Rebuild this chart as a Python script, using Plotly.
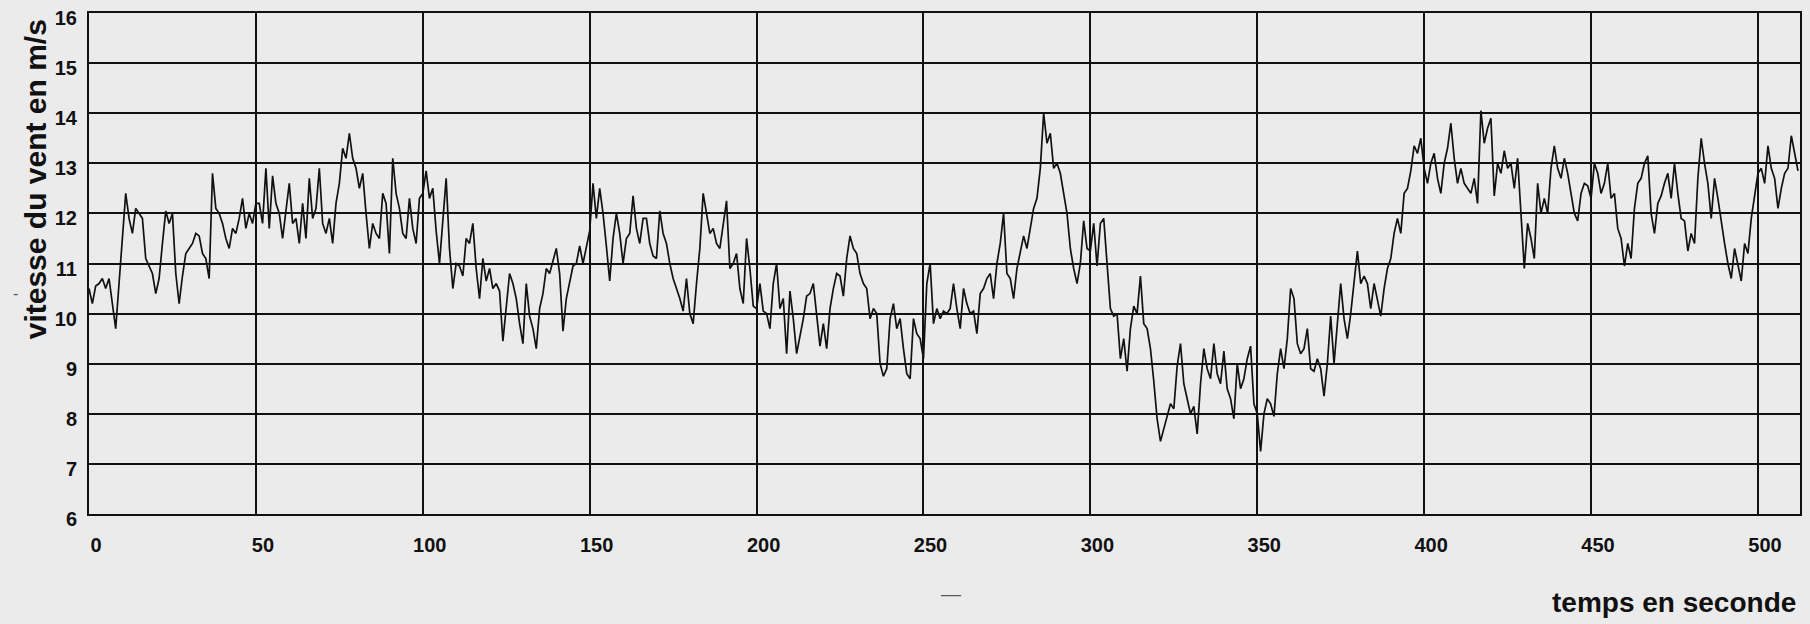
import plotly.graph_objects as go

# Vitesse du vent relevée chaque seconde (m/s), de t = 0 à t = 512 s
vitesse = [
    # 0 - 9
    10.5, 10.2, 10.55, 10.6, 10.7, 10.5, 10.7, 10.2, 9.7, 10.6,
    # 10 - 19
    11.5, 12.4, 11.9, 11.6, 12.1, 12.0, 11.9, 11.1, 10.95, 10.8,
    # 20 - 29
    10.4, 10.7, 11.4, 12.05, 11.8, 12.0, 10.8, 10.2, 10.75, 11.2,
    # 30 - 39
    11.3, 11.4, 11.6, 11.55, 11.2, 11.1, 10.7, 12.8, 12.1, 12.0,
    # 40 - 49
    11.8, 11.5, 11.3, 11.7, 11.6, 11.9, 12.3, 11.7, 12.0, 11.8,
    # 50 - 59
    12.2, 12.2, 11.8, 12.9, 11.7, 12.75, 12.2, 12.0, 11.5, 12.1,
    # 60 - 69
    12.6, 11.8, 11.9, 11.4, 12.2, 11.5, 12.7, 11.9, 12.1, 12.9,
    # 70 - 79
    11.8, 11.6, 11.9, 11.4, 12.2, 12.6, 13.3, 13.1, 13.6, 13.1,
    # 80 - 89
    12.9, 12.5, 12.8, 12.0, 11.3, 11.8, 11.6, 11.5, 12.4, 12.2,
    # 90 - 99
    11.2, 13.1, 12.4, 12.1, 11.6, 11.5, 12.3, 11.7, 11.4, 12.3,
    # 100 - 109
    12.4, 12.85, 12.3, 12.5, 11.65, 11.0, 11.8, 12.7, 11.3, 10.5,
    # 110 - 119
    11.0, 10.95, 10.75, 11.5, 11.4, 11.8, 10.9, 10.3, 11.1, 10.65,
    # 120 - 129
    10.9, 10.5, 10.6, 10.45, 9.45, 10.1, 10.8, 10.6, 10.3, 9.8,
    # 130 - 139
    9.4, 10.6, 9.95, 9.7, 9.3, 10.1, 10.4, 10.9, 10.8, 11.05,
    # 140 - 149
    11.3, 10.8, 9.65, 10.3, 10.6, 10.95, 11.0, 11.35, 11.0, 11.3,
    # 150 - 159
    11.65, 12.6, 11.9, 12.5, 12.0, 11.35, 10.65, 11.5, 12.0, 11.6,
    # 160 - 169
    11.0, 11.5, 11.6, 12.35, 11.7, 11.4, 11.9, 11.9, 11.4, 11.15,
    # 170 - 179
    11.1, 12.05, 11.6, 11.4, 11.0, 10.7, 10.5, 10.3, 10.05, 10.7,
    # 180 - 189
    10.0, 9.8, 10.6, 11.3, 12.4, 12.0, 11.6, 11.7, 11.4, 11.3,
    # 190 - 199
    11.8, 12.25, 10.9, 11.0, 11.2, 10.5, 10.2, 11.5, 10.9, 10.15,
    # 200 - 209
    10.1, 10.6, 10.05, 10.0, 9.7, 10.6, 11.0, 10.1, 10.3, 9.2,
    # 210 - 219
    10.45, 9.9, 9.2, 9.55, 9.9, 10.35, 10.4, 10.6, 9.9, 9.35,
    # 220 - 229
    9.8, 9.3, 10.1, 10.5, 10.8, 10.75, 10.35, 11.1, 11.55, 11.3,
    # 230 - 239
    11.2, 10.8, 10.6, 10.5, 9.9, 10.1, 10.0, 9.0, 8.75, 8.9,
    # 240 - 249
    9.9, 10.2, 9.7, 9.9, 9.3, 8.8, 8.7, 9.9, 9.6, 9.5,
    # 250 - 259
    9.1, 10.6, 11.0, 9.8, 10.1, 9.9, 10.05, 10.0, 10.1, 10.6,
    # 260 - 269
    10.1, 9.7, 10.5, 10.2, 10.0, 10.05, 9.6, 10.4, 10.5, 10.7,
    # 270 - 279
    10.8, 10.3, 11.0, 11.4, 12.0, 10.8, 10.7, 10.3, 10.9, 11.2,
    # 280 - 289
    11.55, 11.3, 11.7, 12.1, 12.3, 12.9, 14.0, 13.4, 13.6, 12.9,
    # 290 - 299
    13.0, 12.8, 12.4, 12.0, 11.3, 10.9, 10.6, 11.0, 11.85, 11.3,
    # 300 - 309
    11.25, 11.8, 10.95, 11.8, 11.9, 11.0, 10.1, 9.95, 10.0, 9.1,
    # 310 - 319
    9.5, 8.85, 9.7, 10.15, 10.0, 10.75, 9.8, 9.7, 9.3, 8.65,
    # 320 - 329
    7.9, 7.45, 7.7, 7.9, 8.2, 8.1, 8.95, 9.4, 8.6, 8.3,
    # 330 - 339
    8.0, 8.15, 7.6, 8.6, 9.3, 8.9, 8.7, 9.4, 8.8, 8.6,
    # 340 - 349
    9.25, 8.5, 8.3, 7.9, 9.0, 8.5, 8.7, 9.1, 9.35, 8.2,
    # 350 - 359
    8.0, 7.25, 8.0, 8.3, 8.2, 7.95, 8.8, 9.3, 8.9, 9.5,
    # 360 - 369
    10.5, 10.3, 9.4, 9.2, 9.3, 9.7, 8.9, 8.85, 9.1, 8.9,
    # 370 - 379
    8.35, 9.0, 9.95, 9.0, 9.85, 10.6, 9.9, 9.5, 10.0, 10.7,
    # 380 - 389
    11.25, 10.6, 10.75, 10.6, 10.1, 10.6, 10.3, 9.95, 10.5, 10.9,
    # 390 - 399
    11.1, 11.6, 11.9, 11.6, 12.4, 12.5, 12.85, 13.35, 13.2, 13.5,
    # 400 - 409
    12.9, 12.6, 13.0, 13.2, 12.7, 12.4, 13.0, 13.3, 13.8, 13.1,
    # 410 - 419
    12.6, 12.9, 12.6, 12.5, 12.4, 12.7, 12.2, 14.05, 13.4, 13.7,
    # 420 - 429
    13.9, 12.35, 13.0, 12.8, 13.25, 12.9, 13.0, 12.5, 13.1, 12.0,
    # 430 - 439
    10.9, 11.8, 11.5, 11.1, 12.6, 12.0, 12.3, 12.0, 12.9, 13.35,
    # 440 - 449
    12.9, 12.7, 13.1, 12.8, 12.4, 12.0, 11.85, 12.4, 12.6, 12.55,
    # 450 - 459
    12.3, 13.0, 12.8, 12.4, 12.6, 13.0, 12.3, 12.4, 11.7, 11.5,
    # 460 - 469
    10.95, 11.4, 11.1, 12.1, 12.6, 12.7, 13.0, 13.15, 12.0, 11.6,
    # 470 - 479
    12.2, 12.35, 12.6, 12.8, 12.3, 13.0, 12.4, 11.9, 11.85, 11.25,
    # 480 - 489
    11.6, 11.4, 12.7, 13.5, 13.0, 12.6, 11.9, 12.7, 12.3, 11.8,
    # 490 - 499
    11.4, 11.0, 10.7, 11.3, 11.0, 10.65, 11.4, 11.2, 11.9, 12.4,
    # 500 - 509
    12.8, 12.9, 12.6, 13.35, 12.9, 12.7, 12.1, 12.5, 12.8, 12.9,
    # 510 - 512
    13.55, 13.2, 12.85,
]

# Instants d'échantillonnage (une mesure par seconde)
temps = list(range(len(vitesse)))

x_ticks = [0, 50, 100, 150, 200, 250, 300, 350, 400, 450, 500]
y_ticks = [6, 7, 8, 9, 10, 11, 12, 13, 14, 15, 16]

FOND = "#ebebeb"
ENCRE = "#111111"
POLICE = "Liberation Sans, Arial, sans-serif"

fig = go.Figure(
    go.Scatter(
        x=temps,
        y=vitesse,
        mode="lines",
        line=dict(color=ENCRE, width=1.7),
        hoverinfo="x+y",
    )
)

axe_commun = dict(
    showgrid=True,
    gridcolor=ENCRE,
    gridwidth=2,
    showline=True,
    linecolor=ENCRE,
    linewidth=2,
    mirror=True,
    zeroline=False,
    ticks="",
    automargin=False,
    ticklabeloverflow="allow",
    tickfont=dict(family=POLICE, size=20, color=ENCRE, weight="bold"),
)

fig.update_xaxes(
    range=[0, 512.6],
    tickvals=x_ticks,
    ticktext=[str(v) for v in x_ticks],
    ticklabelshift=7,
    ticklabelstandoff=12,
    **axe_commun,
)
fig.update_yaxes(
    range=[6, 16],
    tickvals=y_ticks,
    ticktext=[str(v) for v in y_ticks],
    ticklabelshift=5,
    ticklabelstandoff=6,
    **axe_commun,
)

fig.update_layout(
    width=1810,
    height=624,
    margin=dict(l=89, r=10, t=13, b=110, autoexpand=False),
    paper_bgcolor=FOND,
    plot_bgcolor=FOND,
    showlegend=False,
    annotations=[
        dict(
            text="vitesse du vent en m/s",
            xref="paper", yref="paper",
            x=-0.0316, y=0.668,
            xanchor="center", yanchor="middle",
            textangle=-90,
            showarrow=False,
            font=dict(family=POLICE, size=30, color=ENCRE, weight="bold"),
        ),
        dict(
            text="temps en seconde",
            xref="paper", yref="paper",
            x=0.999, y=-0.176,
            xanchor="right", yanchor="middle",
            showarrow=False,
            font=dict(family=POLICE, size=28, color=ENCRE, weight="bold"),
        ),
        # petits traits isolés présents sur la feuille
        dict(
            text="-", xref="paper", yref="paper",
            x=-0.043, y=0.44, xanchor="center", yanchor="middle",
            showarrow=False,
            font=dict(family=POLICE, size=16, color="#555555"),
        ),
        dict(
            text="—", xref="paper", yref="paper",
            x=0.504, y=-0.16, xanchor="center", yanchor="middle",
            showarrow=False,
            font=dict(family=POLICE, size=20, color="#555555"),
        ),
    ],
)

fig.write_html("out.html")
